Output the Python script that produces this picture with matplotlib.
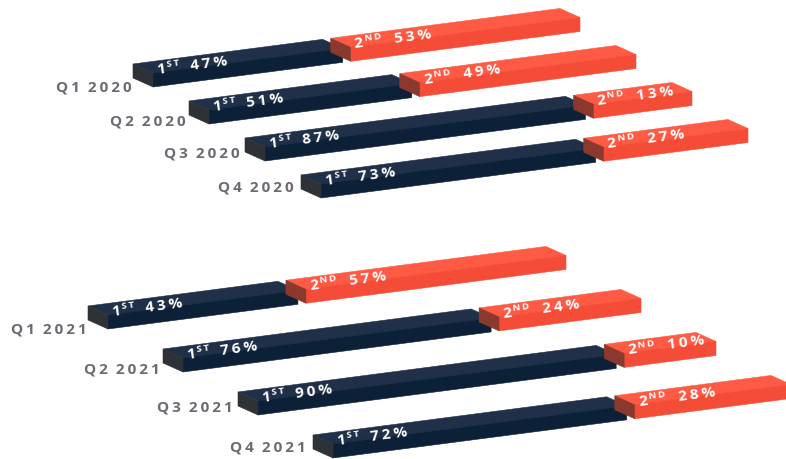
import numpy as np
import matplotlib.pyplot as plt
from matplotlib.patches import Polygon

# values shown on the bars (first / second share per quarter)
quarters = ['Q1', 'Q2', 'Q3', 'Q4']
first_2020 = [47, 51, 87, 73]
second_2020 = [53, 49, 13, 27]
first_2021 = [43, 76, 90, 72]
second_2021 = [57, 24, 10, 28]

NAVY = {'top': '#1f3048', 'front': '#0c2138', 'side': '#2e3135'}
RED = {'top': '#ff5a43', 'front': '#f44c37', 'side': '#8a392c'}
LABEL_COLOR = '#6f6972'
FONT = ['Open Sans', 'DejaVu Sans']
THIN = '\u2009'

# each segment keeps a little fixed room for its label, the rest is scaled
PAD_FIRST = 36
PAD_SECOND = 56


def spaced(s):
    return THIN.join(s)


def draw_box(ax, p0, p1, colors, depth, thick, z):
    p0 = np.asarray(p0, float)
    p1 = np.asarray(p1, float)
    d = np.asarray(depth, float)
    t = np.array([0.0, thick])
    faces = [
        ([p0, p1, p1 + d, p0 + d], colors['top']),
        ([p0, p1, p1 + t, p0 + t], colors['front']),
        ([p0, p0 + d, p0 + d + t, p0 + t], colors['side']),
    ]
    for pts, c in faces:
        ax.add_patch(Polygon(pts, closed=True, facecolor=c, edgecolor=c,
                             lw=0.4, zorder=z))


def bar_text(ax, p, slope, head, sup, pct, sup_dx, pct_dx, z):
    unit = np.array([1.0, -slope]) / np.hypot(1.0, slope)
    up = np.array([-slope, -1.0]) / np.hypot(1.0, slope)
    rot = np.degrees(np.arctan(slope))
    base = np.asarray(p, float) + 4 * unit - 1.5 * up
    kw = dict(color='white', fontweight='bold', family=FONT, rotation=rot,
              rotation_mode='anchor', ha='left', va='baseline', zorder=z)
    ax.text(*base, head, fontsize=11, **kw)
    ax.text(*(base + sup_dx * unit + 5.5 * up), spaced(sup), fontsize=6.8, **kw)
    ax.text(*(base + pct_dx * unit), spaced(pct), fontsize=11, **kw)


def draw_group(ax, year, first, second, origin, step, length,
               slope=0.13, depth=(-20, -9), thick=14, gap=8):
    k = (length - PAD_FIRST - PAD_SECOND) / 100.0
    u = np.array([1.0, -slope])
    for r, (q, a, b) in enumerate(zip(quarters, first, second)):
        z = 10 + r * 5
        start = np.asarray(origin, float) + r * np.asarray(step, float)
        mid = start + (PAD_FIRST + k * a) * u
        red0 = mid + gap * u
        end = red0 + (PAD_SECOND + k * b) * u
        draw_box(ax, start, mid, NAVY, depth, thick, z)
        draw_box(ax, red0, end, RED, depth, thick, z + 1)
        bar_text(ax, start, slope, '1', 'ST', f'{a}%', 10.5, 34, z + 2)
        bar_text(ax, red0, slope, '2', 'ND', f'{b}%', 10.5, 40, z + 2)
        ax.text(start[0] + depth[0] - 1 - 2 * r, start[1] + thick + 1 - 4 * r,
                spaced(q) + '  ' + spaced(year), color=LABEL_COLOR,
                fontsize=11, fontweight='bold', family=FONT,
                ha='right', va='center', zorder=z)


fig = plt.figure(figsize=(7.86, 4.59), dpi=100)
ax = fig.add_axes([0, 0, 1, 1])
ax.set_xlim(0, 786)
ax.set_ylim(459, 0)
ax.axis('off')

draw_group(ax, '2020', first_2020, second_2020,
           origin=(153, 73), step=(56, 37), length=419)
draw_group(ax, '2021', first_2021, second_2021,
           origin=(108, 315), step=(75, 43), length=450)

fig.savefig('out.png', dpi=100, facecolor='white')
plt.close(fig)
